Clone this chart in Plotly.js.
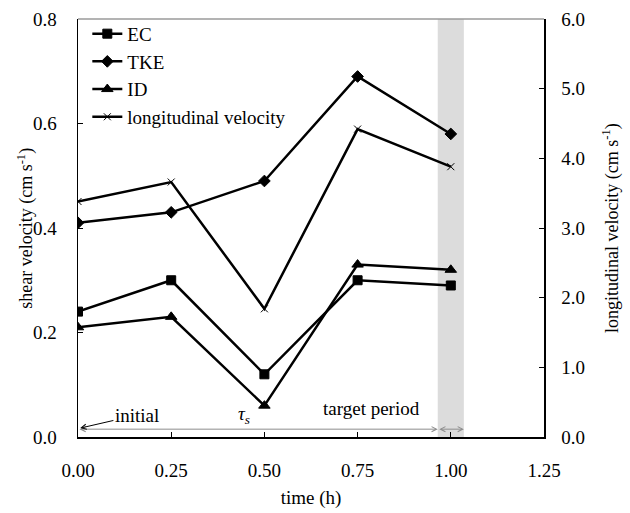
<!DOCTYPE html>
<html>
<head>
<meta charset="utf-8">
<script src="https://cdn.plot.ly/plotly-3.0.1.min.js"></script>
<style>
  html, body { margin: 0; padding: 0; background: #fff; }
  #chart { width: 630px; height: 513px; }
</style>
</head>
<body>
<div id="chart"></div>
<script>
// sampling times (h)
const timeH = [0.00, 0.25, 0.50, 0.75, 1.00];

// shear velocity estimates (cm s-1), left axis
const ecShear  = [0.24, 0.30, 0.12, 0.30, 0.29];
const tkeShear = [0.41, 0.43, 0.49, 0.69, 0.58];
const idShear  = [0.21, 0.23, 0.06, 0.33, 0.32];

// mean longitudinal velocity (cm s-1), right axis
const longVel = [3.38, 3.66, 1.84, 4.42, 3.88];

// target period window on the time axis
const targetWindow = [0.965, 1.035];

const FONT = "Liberation Serif, Tinos, Times New Roman, DejaVu Serif, serif";
const FS = 19;
const lineStyle = { color: "#000", width: 2.5 };

function series(name, y, symbol, size, axis) {
  return {
    type: "scatter", mode: "lines+markers", name: name,
    x: timeH, y: y, yaxis: axis,
    line: lineStyle,
    marker: { symbol: symbol, size: size, color: "#000", line: { color: "#000", width: 1 } },
    legendgroup: name
  };
}

const traces = [
  series("EC", ecShear, "square", 9, "y"),
  series("TKE", tkeShear, "diamond", 9, "y"),
  series("ID", idShear, "triangle-up", 10, "y"),
  series("longitudinal velocity", longVel, "x-thin", 7, "y2")
];

const arrowGrey = "#8c8c8c";
const baseY = 0.015;

const layout = {
  width: 630, height: 513,
  margin: { l: 78, r: 86, t: 19, b: 76 },
  paper_bgcolor: "#fff", plot_bgcolor: "#fff",
  font: { family: FONT, size: FS, color: "#000" },
  showlegend: true,
  legend: {
    x: 0.02, y: 1.01, xanchor: "left", yanchor: "top",
    bgcolor: "rgba(0,0,0,0)", borderwidth: 0,
    traceorder: "grouped", tracegroupgap: 0,
    font: { family: FONT, size: FS, color: "#000" }
  },
  xaxis: {
    range: [0, 1.25], tickvals: [0, 0.25, 0.5, 0.75, 1.0, 1.25], tickformat: ".2f",
    ticks: "inside", ticklen: 5, tickcolor: "#000",
    showline: true, linecolor: "#000", linewidth: 1.5,
    showgrid: false, zeroline: false,
    tickfont: { family: FONT, size: FS }, ticklabelstandoff: 16,
    title: { text: "time (h)", font: { family: FONT, size: FS }, standoff: 10 }
  },
  yaxis: {
    range: [0, 0.8], dtick: 0.2, tickformat: ".1f",
    ticks: "inside", ticklen: 5, tickcolor: "#000",
    showline: true, linecolor: "#000", linewidth: 1.5,
    showgrid: false, zeroline: false,
    tickfont: { family: FONT, size: FS }, ticklabelstandoff: 16
  },
  yaxis2: {
    overlaying: "y", side: "right",
    range: [0, 6], dtick: 1, tickformat: ".1f",
    ticks: "inside", ticklen: 5, tickcolor: "#000",
    showline: true, linecolor: "#000", linewidth: 1.5,
    showgrid: false, zeroline: false,
    tickfont: { family: FONT, size: FS }, ticklabelstandoff: 12
  },
  shapes: [
    { type: "rect", xref: "x", yref: "paper", x0: targetWindow[0], x1: targetWindow[1], y0: 0, y1: 1,
      fillcolor: "#dcdcdc", line: { width: 0 }, layer: "below" },
    { type: "line", xref: "paper", yref: "paper", x0: 0, x1: 1, y0: 1, y1: 1,
      line: { color: "#9a9a9a", width: 1.5 } }
  ],
  annotations: [
    // vertical axis titles
    { xref: "paper", yref: "paper", x: -0.112, y: 0.5, xanchor: "center", yanchor: "middle",
      textangle: -90, showarrow: false, text: "shear velocity (cm s<sup>-1</sup>)",
      font: { family: FONT, size: 18, color: "#000" } },
    { xref: "paper", yref: "paper", x: 1.144, y: 0.5, xanchor: "center", yanchor: "middle",
      textangle: -90, showarrow: false, text: "longitudinal velocity (cm s<sup>-1</sup>)",
      font: { family: FONT, size: 18, color: "#000" } },
    // span from start to the target window
    { xref: "x", yref: "y", axref: "x", ayref: "y",
      x: targetWindow[0], y: baseY, ax: 0, ay: baseY, text: "",
      showarrow: true, arrowside: "end+start", arrowhead: 5, startarrowhead: 5,
      arrowsize: 1, startarrowsize: 1, arrowwidth: 1, arrowcolor: arrowGrey,
      standoff: 0, startstandoff: 0 },
    // span of the target window
    { xref: "x", yref: "y", axref: "x", ayref: "y",
      x: targetWindow[1], y: baseY, ax: targetWindow[0], ay: baseY, text: "",
      showarrow: true, arrowside: "end+start", arrowhead: 5, startarrowhead: 5,
      arrowsize: 1, startarrowsize: 1, arrowwidth: 1, arrowcolor: arrowGrey,
      standoff: 0, startstandoff: 0 },
    { xref: "x", yref: "y", axref: "x", ayref: "y",
      x: 0.006, y: 0.017, ax: 0.158, ay: 0.042, text: "initial",
      font: { family: FONT, size: FS, color: "#000" },
      showarrow: true, arrowhead: 5, arrowsize: 1, arrowwidth: 1, arrowcolor: "#000", standoff: 0 },
    { xref: "x", yref: "y", x: 0.445, y: 0.042, text: "<i>τ<sub>s</sub></i>", showarrow: false,
      font: { family: FONT, size: FS, color: "#000" } },
    { xref: "x", yref: "y", x: 0.787, y: 0.054, text: "target period", showarrow: false,
      font: { family: FONT, size: FS, color: "#000" } }
  ]
};

Plotly.newPlot("chart", traces, layout, { displayModeBar: false, staticPlot: true });
</script>
</body>
</html>
